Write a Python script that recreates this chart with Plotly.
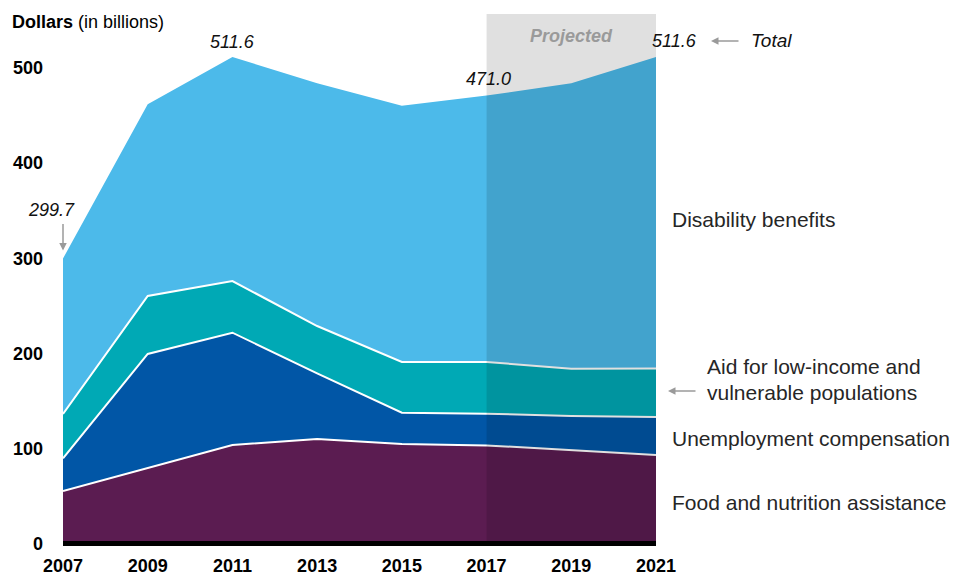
import plotly.graph_objects as go

years = [2007, 2009, 2011, 2013, 2015, 2017, 2019, 2021]
food = [55.2, 79.5, 103.6, 110.0, 104.6, 103.2, 98.3, 93.1]
unemployment = [34.4, 119.8, 118.1, 69.0, 33.0, 33.3, 35.8, 39.9]
aid = [46.6, 61.0, 54.3, 49.7, 53.3, 54.4, 49.7, 51.0]
disability = [163.5, 201.5, 235.6, 255.2, 269.5, 280.1, 300.1, 327.6]
y_ticks = [0, 100, 200, 300, 400, 500]
series_names = ["Food and nutrition assistance", "Unemployment compensation",
                "Aid for low-income and vulnerable populations", "Disability benefits"]
colors = ["#5B1C51", "#0156A6", "#00A9B5", "#4CBAEA"]
totals = [round(f + u + a + d, 1) for f, u, a, d in zip(food, unemployment, aid, disability)]

FONT = "Liberation Sans, Arial, sans-serif"
W, H = 956, 576
L, R, T, B = 63, 300, 14, 30
PW, PH = W - L - R, H - T - B


def px(x):
    return (x - L) / PW


def py(y):
    return (H - B - y) / PH


fig = go.Figure()
for name, vals, col in zip(series_names, [food, unemployment, aid, disability], colors):
    is_top = name == "Disability benefits"
    fig.add_trace(go.Scatter(
        x=years, y=vals, name=name, stackgroup="one", mode="lines",
        fillcolor=col,
        line=dict(color="white", width=0 if is_top else 2),
        hoverinfo="x+y+name",
    ))

# Projected overlay
fig.add_shape(type="rect", xref="x", yref="paper", x0=2017, x1=2021, y0=0, y1=1,
              fillcolor="rgba(0,0,0,0.12)", line=dict(width=0), layer="above")
# baseline bar
fig.add_shape(type="rect", xref="paper", yref="y", x0=0, x1=1, y0=-2.6, y1=2.6,
              fillcolor="black", line=dict(width=0), layer="above")

ann = []
lab = dict(family=FONT, size=21, color="#262626")
ann.append(dict(xref="paper", yref="paper", x=px(10), y=py(22), xanchor="left", yanchor="middle",
                text="<b>Dollars</b> (in billions)", showarrow=False,
                font=dict(family=FONT, size=18, color="#000")))
ann.append(dict(xref="x", yref="paper", x=2019, y=py(36), xanchor="center", yanchor="middle",
                text="<b><i>Projected</i></b>", showarrow=False,
                font=dict(family=FONT, size=18, color="#9a9a9a")))
val = dict(family=FONT, size=18, color="#111")
ann.append(dict(x=2011, y=totals[2], text="<i>%.1f</i>" % totals[2], showarrow=False,
                xanchor="center", yanchor="bottom", yshift=3, font=val))
ann.append(dict(x=2017, y=totals[5], text="<i>%.1f</i>" % totals[5], showarrow=False,
                xanchor="center", yanchor="bottom", yshift=5, xshift=2, font=val))
ann.append(dict(x=2021, y=totals[7], text="<i>%.1f</i>" % totals[7], showarrow=False,
                xanchor="center", yanchor="bottom", yshift=4, xshift=18, font=val))
ann.append(dict(x=2007, y=totals[0], text="<i>%.1f</i>" % totals[0], showarrow=False,
                xanchor="center", yanchor="middle", yshift=49, xshift=-12, font=val))
# arrow for 299.7
ann.append(dict(x=2007, y=totals[0], text="", showarrow=True, ax=0, ay=-36, standoff=8,
                arrowhead=2, arrowsize=1, arrowwidth=1.5, arrowcolor="#9a9a9a"))
# Total
ann.append(dict(xref="paper", yref="paper", x=px(749), y=py(41), xanchor="left", yanchor="middle",
                text="<i>Total</i>", showarrow=False, font=dict(family=FONT, size=19, color="#111")))
ann.append(dict(xref="paper", yref="paper", x=px(711), y=py(41), text="", showarrow=True,
                axref="pixel", ayref="pixel", ax=29, ay=0,
                arrowhead=2, arrowsize=1, arrowwidth=1.5, arrowcolor="#9a9a9a"))
# series labels
ann.append(dict(xref="paper", yref="paper", x=px(670), y=py(220), xanchor="left", yanchor="middle",
                text="Disability benefits", showarrow=False, font=lab))
ann.append(dict(xref="paper", yref="paper", x=px(705), y=py(367), xanchor="left", yanchor="middle",
                text="Aid for low-income and", showarrow=False, font=lab))
ann.append(dict(xref="paper", yref="paper", x=px(705), y=py(392), xanchor="left", yanchor="middle",
                text="vulnerable populations", showarrow=False, font=lab))
ann.append(dict(xref="paper", yref="paper", x=px(668), y=py(391), text="", showarrow=True,
                ax=29, ay=0,
                arrowhead=2, arrowsize=1, arrowwidth=1.5, arrowcolor="#9a9a9a"))
ann.append(dict(xref="paper", yref="paper", x=px(670), y=py(438), xanchor="left", yanchor="middle",
                text="Unemployment compensation", showarrow=False, font=lab))
ann.append(dict(xref="paper", yref="paper", x=px(670), y=py(502), xanchor="left", yanchor="middle",
                text="Food and nutrition assistance", showarrow=False, font=lab))

fig.update_layout(
    width=W, height=H,
    margin=dict(l=L, r=R, t=T, b=B, pad=0),
    paper_bgcolor="white", plot_bgcolor="white",
    showlegend=False,
    annotations=ann,
    xaxis=dict(range=[2007, 2021], tickvals=years, ticktext=[f"<b>{y}</b>" for y in years],
               showgrid=False, zeroline=False, showline=False, ticks="", automargin=False,
               tickfont=dict(family=FONT, size=18, color="#000"), ticklabelstandoff=7),
    yaxis=dict(range=[-2.6, 556.8], tickvals=y_ticks, ticktext=[f"<b>{v}</b>" for v in y_ticks],
               showgrid=False, zeroline=False, showline=False, ticks="", automargin=False,
               tickfont=dict(family=FONT, size=18, color="#000"), ticklabelstandoff=19),
)

fig.write_html("out.html", config={"displayModeBar": False},
               post_script="document.body.style.margin='0';document.body.style.overflow='hidden';")
